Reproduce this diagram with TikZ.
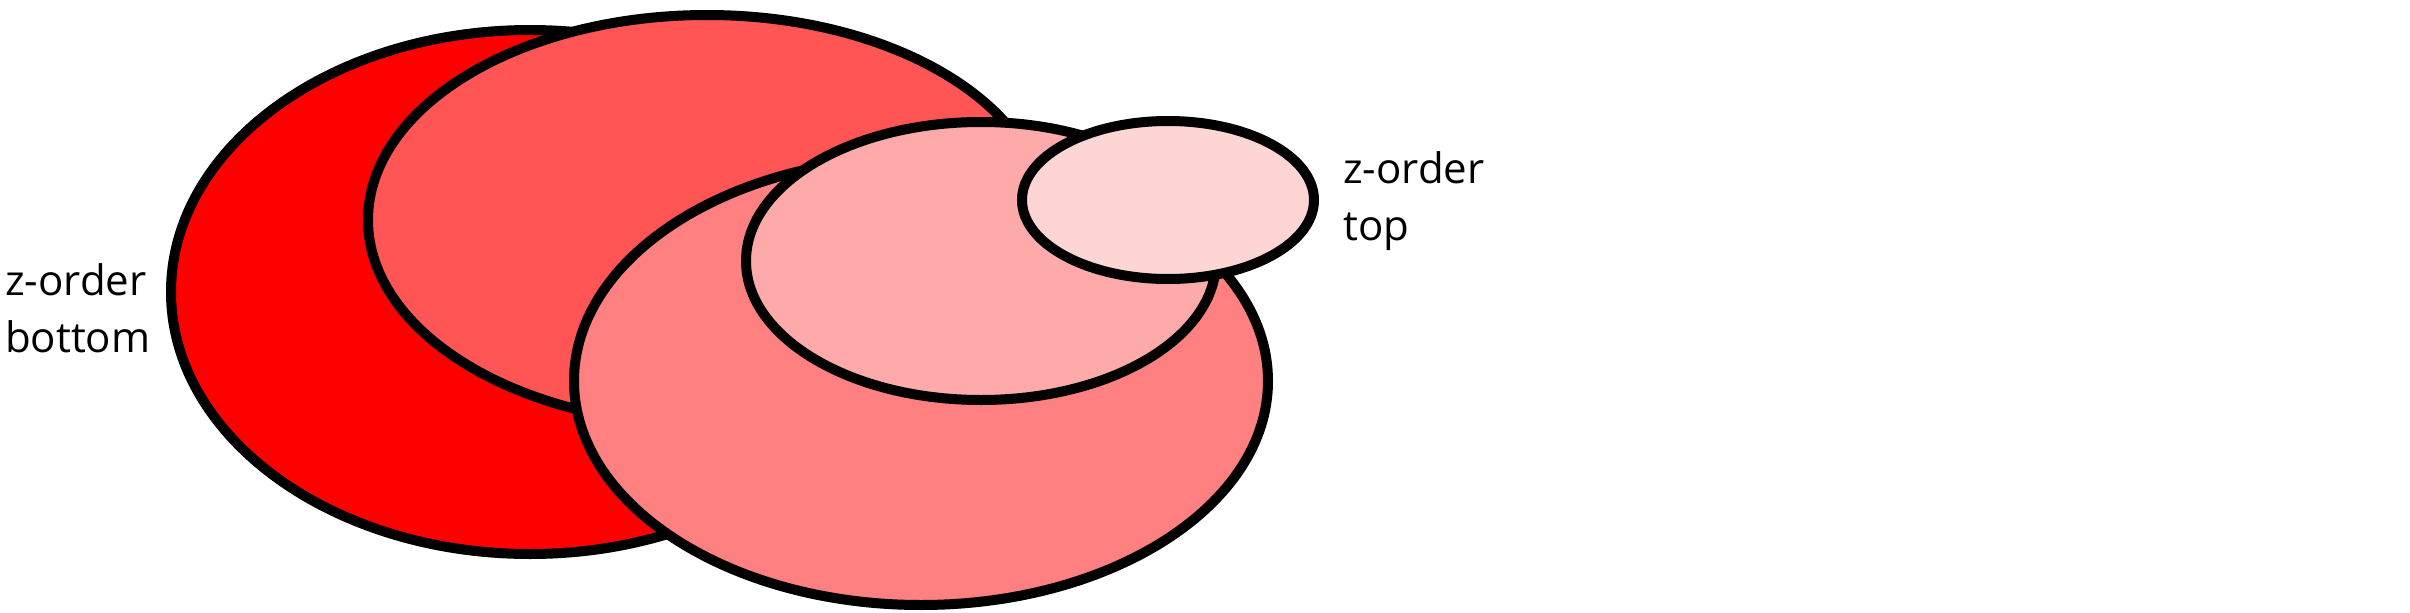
\documentclass[tikz,border=0pt]{standalone}
\usepackage{fontspec}
\setmainfont{Open Sans}
\usetikzlibrary{shapes.geometric}
\definecolor{cA}{HTML}{FF0000}
\definecolor{cB}{HTML}{FF5555}
\definecolor{cC}{HTML}{FF8080}
\definecolor{cD}{HTML}{FFAAAA}
\definecolor{cE}{HTML}{FDD5D5}
\tikzset{
  blob/.style={ellipse, draw=black, line width=10pt, inner sep=0pt, outer sep=0pt},
  lbl/.style={anchor=base west, inner sep=0pt, font=\fontsize{42}{57}\selectfont, text=black}
}
\begin{document}
\begin{tikzpicture}[x=1pt,y=-1pt]
\path[use as bounding box] (0,0) rectangle (2410,613);
\node[blob, fill=cA, minimum width=718pt, minimum height=524pt] (e1) at (530,292) {};
\node[blob, fill=cB, minimum width=678pt, minimum height=410pt] (e2) at (707,220) {};
\node[blob, fill=cC, minimum width=694pt, minimum height=448pt] (e3) at (921,381) {};
\node[blob, fill=cD, minimum width=470pt, minimum height=278pt] (e4) at (981,261) {};
\node[blob, fill=cE, minimum width=292pt, minimum height=158pt] (e5) at (1168,200) {};
\node[lbl] (b1) at (5,295) {z-order};
\node[lbl] (b2) at (5,352) {bottom};
\node[lbl] (t1) at (1343,183) {z-order};
\node[lbl] (t2) at (1343,240) {top};
\end{tikzpicture}
\end{document}
